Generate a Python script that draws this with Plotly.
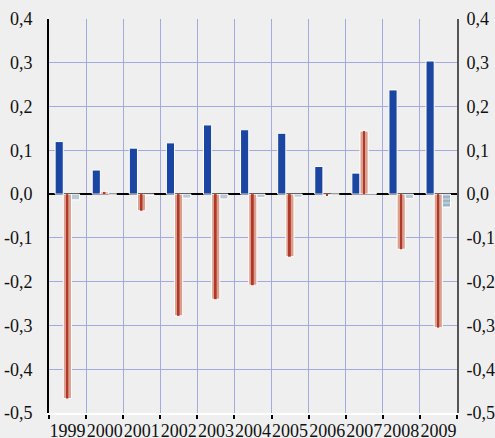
import plotly.graph_objects as go

years = ["1999", "2000", "2001", "2002", "2003", "2004", "2005", "2006", "2007", "2008", "2009"]
series_blue = [0.120, 0.055, 0.105, 0.117, 0.158, 0.147, 0.139, 0.063, 0.048, 0.238, 0.304]
series_red = [-0.467, 0.005, -0.038, -0.278, -0.240, -0.208, -0.143, -0.003, 0.144, -0.126, -0.305]
series_light = [-0.013, 0.000, -0.003, -0.009, -0.011, -0.008, -0.007, 0.000, 0.002, -0.010, -0.030]
y_tick_values = [-0.5, -0.4, -0.3, -0.2, -0.1, 0.0, 0.1, 0.2, 0.3, 0.4]
y_tick_labels = ["-0,5", "-0,4", "-0,3", "-0,2", "-0,1", "0,0", "0,1", "0,2", "0,3", "0,4"]

BG = "#efefef"
GRID = "#a3aadf"
FONT = dict(family="'Liberation Serif', 'Times New Roman', serif", size=18, color="#111111")
BW = 0.22

fig = go.Figure()
fig.add_trace(go.Bar(x=years, y=series_blue, width=BW, offset=-0.335,
                     marker=dict(color="#1a45a1", line=dict(color="white", width=1)),
                     showlegend=False, hoverinfo="skip"))
fig.add_trace(go.Bar(x=years, y=series_red, width=BW, offset=-0.115,
                     marker=dict(color="#d9a08e", line=dict(color="white", width=1)),
                     showlegend=False, hoverinfo="skip"))
fig.add_trace(go.Bar(x=years, y=series_red, width=0.05, offset=-0.03,
                     marker=dict(color="#b3362a", line=dict(width=0)),
                     showlegend=False, hoverinfo="skip"))
patterns = [""] * (len(years) - 1) + ["-"]
fig.add_trace(go.Bar(x=years, y=series_light, width=BW, offset=0.105,
                     marker=dict(color="#b9c9d5", line=dict(color="white", width=1),
                                 pattern=dict(shape=patterns, fgcolor="#4f8aa6", size=4, solidity=0.3)),
                     showlegend=False, hoverinfo="skip"))
fig.add_trace(go.Scatter(x=[years[0]], y=[None], yaxis="y2", mode="markers",
                         showlegend=False, hoverinfo="skip"))

fig.update_layout(
    width=495, height=438,
    margin=dict(l=49, r=38, t=19, b=25, autoexpand=False),
    paper_bgcolor=BG, plot_bgcolor=BG,
    barmode="overlay",
    font=FONT,
    xaxis=dict(type="category", tickson="boundaries", showgrid=True, gridcolor=GRID, gridwidth=1,
               ticks="outside", ticklen=4, tickwidth=2, tickcolor="black",
               showline=True, linecolor="white", linewidth=2, automargin=False,
               tickfont=FONT, tickangle=0, range=[-0.5, 10.5]),
    yaxis=dict(range=[-0.5, 0.4], tickvals=y_tick_values, ticktext=y_tick_labels,
               showgrid=True, gridcolor=GRID, gridwidth=1,
               zeroline=True, zerolinecolor="black", zerolinewidth=2,
               showline=True, linecolor="black", linewidth=2, automargin=False,
               ticks="", ticklabelstandoff=11, tickfont=FONT),
    yaxis2=dict(range=[-0.5, 0.4], tickvals=y_tick_values, ticktext=y_tick_labels,
                overlaying="y", side="right", showgrid=False, zeroline=False,
                showline=True, linecolor="#555555", linewidth=2, automargin=False,
                ticks="", ticklabelstandoff=4, tickfont=FONT),
)

fig.write_html(
    "out.html",
    config={"displayModeBar": False},
    post_script="document.body.style.margin='0';document.body.style.background='#efefef';",
)
